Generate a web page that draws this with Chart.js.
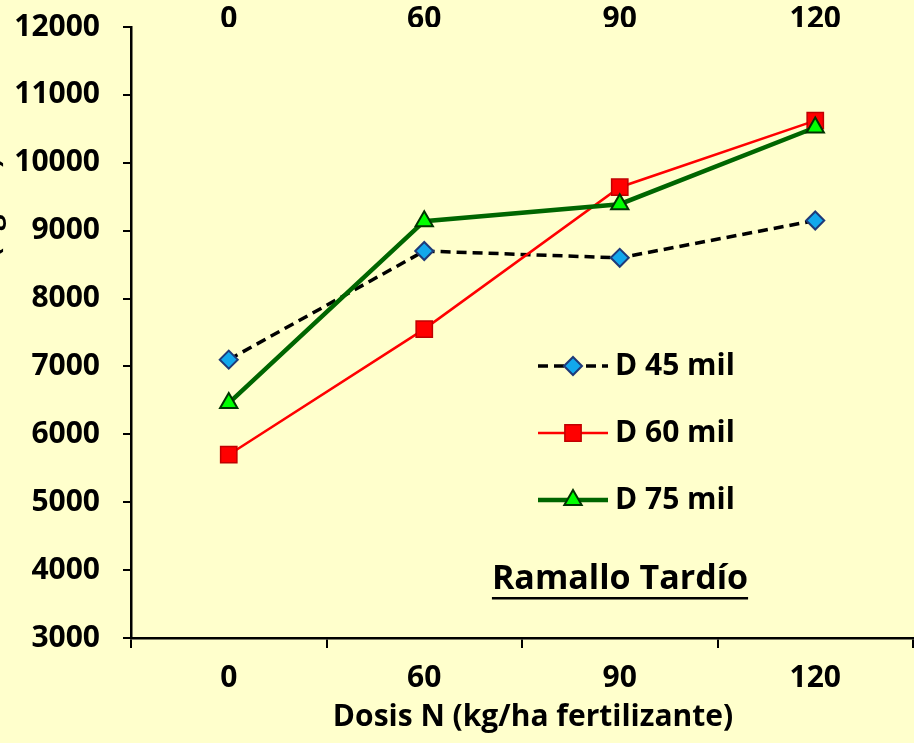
<!DOCTYPE html>
<html>
  <head>
    <script src="https://cdn.jsdelivr.net/npm/chart.js"></script>
    <style>
      html, body {
        margin: 0;
        padding: 0;
        background: #FFFFCC;
        overflow: hidden;
      }
      canvas {
        display: block;
      }
    </style>
  </head>
  <body>
    <canvas id="grafico" width="914" height="743"></canvas>

    <script>
      // Datos
      const dosis = ['0', '60', '90', '120'];
      const d45 = [7100, 8700, 8600, 9150];
      const d60 = [5700, 7550, 9640, 10620];
      const d75 = [6460, 9140, 9390, 10520];
      const seriesNames = ['D 45 mil', 'D 60 mil', 'D 75 mil'];
      const yMin = 3000, yMax = 12000, yStep = 1000;

      const FONT = "'Open Sans', 'Noto Sans', sans-serif";
      const tickFont = { family: FONT, size: 30, weight: 'bold' };

      function sinPadding(scale) {
        scale.paddingTop = 0;
        scale.paddingBottom = 0;
        scale.paddingLeft = 0;
        scale.paddingRight = 0;
      }

      const fondo = {
        id: 'fondo',
        beforeDraw(chart) {
          const ctx = chart.ctx;
          ctx.save();
          ctx.fillStyle = '#FFFFCC';
          ctx.fillRect(0, 0, chart.width, chart.height);
          ctx.restore();
        }
      };

      const extras = {
        id: 'extras',
        afterDraw(chart) {
          const ctx = chart.ctx;
          ctx.save();
          ctx.fillStyle = '#000';

          // titulo eje x
          ctx.font = 'bold 30px ' + FONT;
          ctx.textAlign = 'center';
          ctx.textBaseline = 'middle';
          ctx.fillText('Dosis N (kg/ha fertilizante)', 533, 717);

          // titulo eje y (casi todo fuera del lienzo)
          ctx.save();
          ctx.translate(0, 158);
          ctx.rotate(-Math.PI / 2);
          ctx.textAlign = 'right';
          ctx.textBaseline = 'alphabetic';
          ctx.font = 'bold 28px ' + FONT;
          ctx.fillText('Rendimiento (kg/ha)', 0, -1);
          ctx.restore();

          // leyenda
          const rows = [366, 433, 500];
          chart.data.datasets.forEach((ds, i) => {
            const y = rows[i];
            ctx.save();
            ctx.strokeStyle = ds.borderColor;
            ctx.lineWidth = ds.borderWidth;
            ctx.setLineDash(ds.borderDash || []);
            ctx.beginPath();
            ctx.moveTo(538, y);
            ctx.lineTo(608, y);
            ctx.stroke();
            ctx.setLineDash([]);
            ctx.fillStyle = ds.pointBackgroundColor;
            ctx.strokeStyle = ds.pointBorderColor;
            ctx.lineWidth = ds.pointBorderWidth;
            Chart.helpers.drawPoint(ctx, {
              pointStyle: ds.pointStyle,
              radius: ds.pointRadius,
              rotation: 0,
              borderWidth: ds.pointBorderWidth
            }, 573, y);
            ctx.restore();
            ctx.font = 'bold 30px ' + FONT;
            ctx.textAlign = 'left';
            ctx.textBaseline = 'middle';
            ctx.fillText(ds.label, 615, y);
          });

          // titulo interno subrayado
          ctx.font = 'bold 34px ' + FONT;
          ctx.textAlign = 'center';
          ctx.textBaseline = 'middle';
          const t = 'Ramallo Tardío';
          ctx.fillText(t, 620, 579);
          const w = ctx.measureText(t).width;
          ctx.fillRect(620 - w / 2, 597, w, 2.5);

          ctx.restore();
        }
      };

      new Chart(document.getElementById('grafico'), {
        type: 'line',
        data: {
          labels: dosis,
          datasets: [
            {
              label: seriesNames[0],
              data: d45,
              borderColor: '#000000',
              borderWidth: 3.5,
              borderDash: [10, 6],
              pointStyle: 'rectRot',
              pointRadius: 9,
              pointBackgroundColor: '#12A8EC',
              pointBorderColor: '#1F3A78',
              pointBorderWidth: 2,
              order: 2,
              clip: false
            },
            {
              label: seriesNames[1],
              data: d60,
              borderColor: '#FF0000',
              borderWidth: 2.5,
              pointStyle: 'rect',
              pointRadius: 11.5,
              pointBackgroundColor: '#FF0000',
              pointBorderColor: '#C00000',
              pointBorderWidth: 1.5,
              order: 1,
              clip: false
            },
            {
              label: seriesNames[2],
              data: d75,
              borderColor: '#006600',
              borderWidth: 4.5,
              pointStyle: 'triangle',
              pointRadius: 10,
              pointBackgroundColor: '#00FF00',
              pointBorderColor: '#003300',
              pointBorderWidth: 2,
              order: 0,
              clip: false
            }
          ]
        },
        options: {
          responsive: false,
          animation: false,
          layout: { autoPadding: false, padding: { left: 0, right: 1, top: 0, bottom: 0 } },
          plugins: {
            legend: { display: false },
            tooltip: { enabled: false }
          },
          scales: {
            x: {
              type: 'category',
              position: 'bottom',
              offset: true,
              grid: {
                display: true,
                offset: true,
                drawOnChartArea: false,
                drawTicks: true,
                tickLength: 10,
                color: '#000',
                lineWidth: 2
              },
              border: { display: true, color: '#000', width: 2.5 },
              ticks: { color: '#000', font: tickFont, padding: 12, maxRotation: 0 },
              afterFit(scale) { scale.height = 105; sinPadding(scale); }
            },
            x2: {
              type: 'category',
              position: 'top',
              labels: dosis,
              offset: true,
              grid: { display: false, drawTicks: false },
              border: { display: false },
              ticks: { color: '#000', font: tickFont, padding: -10, maxRotation: 0 },
              afterFit(scale) { scale.height = 27; sinPadding(scale); }
            },
            y: {
              min: yMin,
              max: yMax,
              grid: {
                display: true,
                drawOnChartArea: false,
                drawTicks: true,
                tickLength: 8,
                color: '#000',
                lineWidth: 2
              },
              border: { display: true, color: '#000', width: 2.5 },
              ticks: {
                stepSize: yStep,
                color: '#000',
                font: tickFont,
                padding: 23,
                callback: v => String(v)
              },
              afterFit(scale) { scale.width = 131; sinPadding(scale); }
            }
          }
        },
        plugins: [fondo, extras]
      });
    </script>
  </body>
</html>
